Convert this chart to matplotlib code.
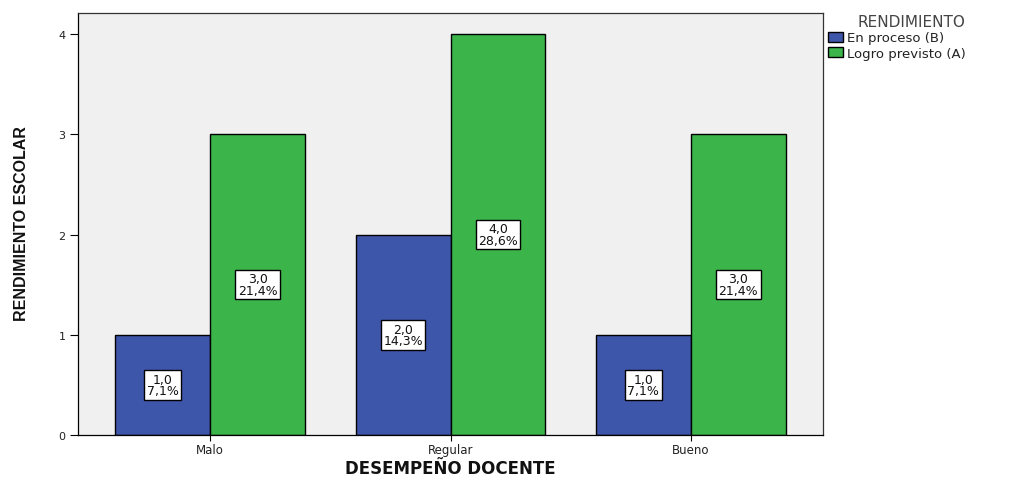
import matplotlib
matplotlib.use("Agg")
import matplotlib.pyplot as plt
import numpy as np

categories = ["Malo", "Regular", "Bueno"]
series_names = ["En proceso (B)", "Logro previsto (A)"]
en_proceso = [1.0, 2.0, 1.0]
logro_previsto = [3.0, 4.0, 3.0]
pct_en_proceso = ["7,1%", "14,3%", "7,1%"]
pct_logro = ["21,4%", "28,6%", "21,4%"]
yticks = [0, 1, 2, 3, 4]

colors = ["#3D56AA", "#3BB44A"]

fig = plt.figure(figsize=(10.10, 4.81), dpi=100)
ax = fig.add_axes([78/1010, 1-436/481, (823-78)/1010, (436-14)/481])
ax.set_facecolor("#F0F0F0")

x = np.arange(len(categories))
w = 0.395
b1 = ax.bar(x - w/2, en_proceso, width=w, color=colors[0], edgecolor="black", linewidth=1.0, label=series_names[0])
b2 = ax.bar(x + w/2, logro_previsto, width=w, color=colors[1], edgecolor="black", linewidth=1.0, label=series_names[1])

def fmt(v):
    return f"{v:.1f}".replace(".", ",")

for bars, vals, pcts in [(b1, en_proceso, pct_en_proceso), (b2, logro_previsto, pct_logro)]:
    for r, v, p in zip(bars, vals, pcts):
        ax.text(r.get_x() + r.get_width()/2, v/2, f"{fmt(v)}\n{p}", ha="center", va="center",
                fontsize=9, family="DejaVu Sans", linespacing=0.85, color="#111111",
                bbox=dict(boxstyle="square,pad=0.2", facecolor="white", edgecolor="black", linewidth=1.0))

ax.set_xlim(-0.55, 2.55)
ax.set_ylim(0, 4.21)
ax.set_yticks(yticks)
ax.set_yticklabels([str(t) for t in yticks], fontsize=8, family="DejaVu Sans", color="#222222")
ax.set_xticks(x)
ax.set_xticklabels(categories, fontsize=8.5, family="DejaVu Sans", color="#222222")
ax.tick_params(axis="y", length=6, width=0.8, pad=3)
ax.tick_params(axis="x", length=4, width=0.8, pad=2)
for s in ax.spines.values():
    s.set_linewidth(0.9)
    s.set_color("#333333")
ax.spines["left"].set_color("black")
ax.spines["bottom"].set_color("black")

fig.text(450/1010, 1-469/481, "DESEMPEÑO DOCENTE", fontsize=12, fontweight="bold",
         family="DejaVu Sans", ha="center", va="center", color="#111111")
fig.text(22/1010, 1-224/481, "RENDIMIENTO ESCOLAR", fontsize=11.5, fontweight="bold",
         family="Liberation Sans", ha="center", va="center", rotation=90, color="#111111")

leg = fig.legend(handles=[b1, b2], labels=series_names, title="RENDIMIENTO",
                 loc="upper left", bbox_to_anchor=(817/1010, 1-4/481), frameon=False,
                 prop={"family": "DejaVu Sans", "size": 9.5},
                 title_fontproperties={"family": "DejaVu Sans", "size": 11},
                 handlelength=1.2, handleheight=0.8, handletextpad=0.25, labelspacing=0.2, borderpad=0.3)
leg.get_title().set_color("#444444")
for t in leg.get_texts():
    t.set_color("#222222")
leg._legend_box.align = "right"

fig.savefig("out.png", dpi=100)
